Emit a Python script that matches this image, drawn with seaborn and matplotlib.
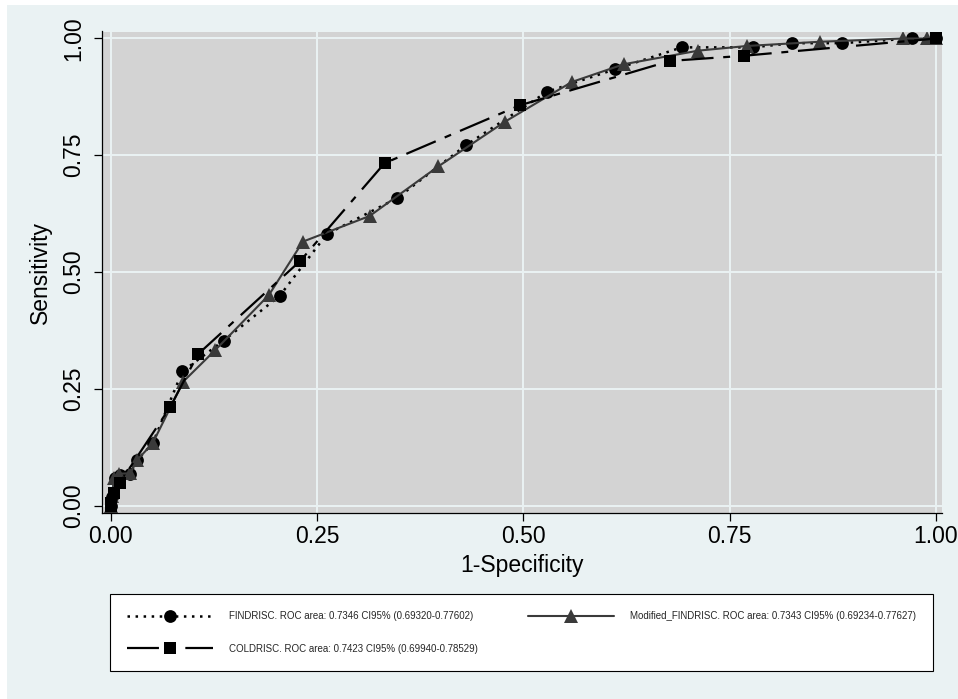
import matplotlib
matplotlib.use("Agg")
import matplotlib.pyplot as plt
from matplotlib.patches import Rectangle
import pandas as pd
import seaborn as sns

# ---------------- data ----------------
findrisc_fpr = [0, 0.002, 0.006, 0.012, 0.024, 0.032, 0.051, 0.087, 0.137, 0.205, 0.262,
                0.347, 0.431, 0.529, 0.611, 0.692, 0.778, 0.826, 0.886, 0.971, 1.0]
findrisc_tpr = [0, 0.018, 0.058, 0.066, 0.068, 0.097, 0.133, 0.287, 0.353, 0.449, 0.581,
                0.658, 0.772, 0.886, 0.934, 0.981, 0.981, 0.990, 0.990, 1.0, 1.0]

modified_fpr = [0, 0.002, 0.004, 0.010, 0.024, 0.032, 0.051, 0.088, 0.127, 0.192, 0.233,
                0.314, 0.397, 0.478, 0.559, 0.622, 0.712, 0.771, 0.859, 0.960, 0.989, 1.0]
modified_tpr = [0, 0.020, 0.058, 0.068, 0.069, 0.097, 0.133, 0.265, 0.333, 0.451, 0.565,
                0.620, 0.726, 0.822, 0.907, 0.945, 0.974, 0.984, 0.993, 1.0, 1.0, 1.0]

coldrisc_fpr = [0, 0.001, 0.004, 0.0115, 0.072, 0.106, 0.230, 0.332, 0.496, 0.678, 0.767, 1.0]
coldrisc_tpr = [0, 0.005, 0.027, 0.049, 0.210, 0.324, 0.524, 0.733, 0.857, 0.952, 0.963, 1.0]

tick_values = [0, 0.25, 0.5, 0.75, 1.0]
tick_labels = ["0.00", "0.25", "0.50", "0.75", "1.00"]

label_findrisc = "FINDRISC. ROC area: 0.7346 CI95% (0.69320-0.77602)"
label_modified = "Modified_FINDRISC. ROC area: 0.7343 CI95% (0.69234-0.77627)"
label_coldrisc = "COLDRISC. ROC area: 0.7423 CI95% (0.69940-0.78529)"

# ---------------- style ----------------
sns.set_theme(style="white")
plt.rcParams["font.family"] = ["Liberation Sans", "DejaVu Sans"]
plt.rcParams["lines.scale_dashes"] = False

W, H = 958, 699
fig = plt.figure(figsize=(W / 100, H / 100), dpi=100, facecolor="white")
fig.patches.append(Rectangle((7 / W, 0), 1, 1 - 5 / H, transform=fig.transFigure,
                             facecolor="#EAF2F3", edgecolor="none", zorder=-10))

ax_l, ax_r, ax_t, ax_b = 101.5, 942, 31.5, 512.5
ax = fig.add_axes([ax_l / W, 1 - ax_b / H, (ax_r - ax_l) / W, (ax_b - ax_t) / H])
ax.set_facecolor("#D3D3D3")

series = [
    (findrisc_fpr, findrisc_tpr, label_findrisc, "black", "o", 9.2, 1.8, (1.8, 4.0)),
    (modified_fpr, modified_tpr, label_modified, "#3a3a3a", "^", 10.5, 1.5, None),
    (coldrisc_fpr, coldrisc_tpr, label_coldrisc, "black", "s", 9.2, 1.6, (23, 7, 5, 7)),
]
handles = {}
for fpr, tpr, lab, col, mk, ms, lw, dash in series:
    df = pd.DataFrame({"fpr": fpr, "tpr": tpr})
    sns.lineplot(data=df, x="fpr", y="tpr", ax=ax, color=col, marker=mk, markersize=ms,
                 markeredgewidth=0, linewidth=lw, sort=False, estimator=None, legend=False)
    line = ax.lines[-1]
    if dash is not None:
        line.set_dashes(dash)
    line.set_label(lab)
    handles[lab] = line

x0, x1 = 110.5, 936.0
y0, y1 = 505.5, 38.5
sx = x1 - x0
sy = y0 - y1
ax.set_xlim((ax_l - x0) / sx, (ax_r - x0) / sx)
ax.set_ylim((y0 - ax_b) / sy, (y0 - ax_t) / sy)

ax.set_xticks(tick_values, tick_labels)
ax.set_yticks(tick_values, tick_labels)
ax.grid(True, color="#EAF2F3", linewidth=1.4)
ax.set_axisbelow(True)

for s in ["top", "right"]:
    ax.spines[s].set_visible(False)
for s in ["left", "bottom"]:
    ax.spines[s].set_color("black")
    ax.spines[s].set_linewidth(0.9)

ax.tick_params(axis="both", which="major", bottom=True, left=True, direction="out",
               length=6, width=0.9, color="black", labelsize=16.5, labelcolor="black")
ax.tick_params(axis="x", pad=3)
ax.tick_params(axis="y", pad=6)
for t in ax.get_yticklabels():
    t.set_rotation(90)
    t.set_va("center")

ax.set_xlabel("1-Specificity", fontsize=16.5, labelpad=4, color="black")
ax.set_ylabel("Sensitivity", fontsize=16.5, labelpad=7, color="black")

leg = fig.legend(handles=[handles[label_findrisc], handles[label_coldrisc], handles[label_modified]],
                 labels=[label_findrisc, label_coldrisc, label_modified],
                 ncol=2, loc="upper left",
                 bbox_to_anchor=(110 / W, 1 - 594.4 / H, 823 / W, 0), mode="expand",
                 borderaxespad=0, fontsize=7, handlelength=8.85, handletextpad=1.6,
                 labelspacing=2.3, borderpad=1.75, frameon=True, fancybox=False,
                 edgecolor="black", facecolor="white", framealpha=1)
leg.get_frame().set_linewidth(0.8)

fig.savefig("out.png", dpi=100, facecolor=fig.get_facecolor())
